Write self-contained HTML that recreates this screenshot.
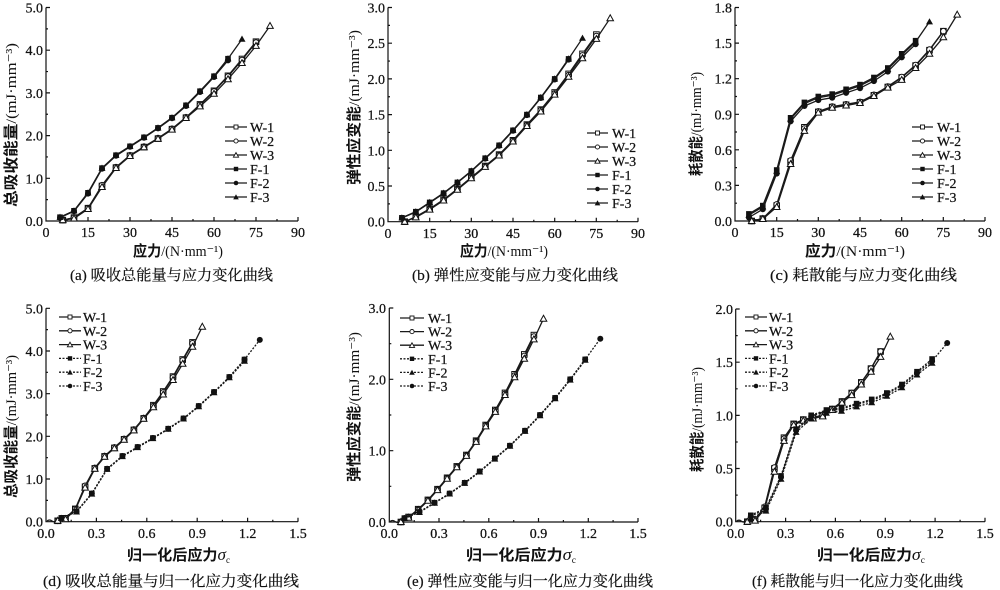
<!DOCTYPE html>
<html><head><meta charset="utf-8"><style>
html,body{margin:0;padding:0;background:#fff}
svg{display:block}
.tk{font-family:"Liberation Serif","Noto Serif CJK SC",serif;font-size:14px;fill:#111;stroke:#111;stroke-width:0.25}
.lg{font-family:"Liberation Serif",serif;font-size:14px;fill:#111;stroke:#111;stroke-width:0.25}
.cap{font-family:"Liberation Serif","Noto Serif CJK SC",serif;font-size:15px;fill:#111;stroke:#111;stroke-width:0.2}
.ttl{font-family:"Liberation Serif","Noto Sans CJK SC",sans-serif;font-size:15px;fill:#111}
.cj{font-family:"Noto Sans CJK SC",sans-serif;font-weight:bold}
.ln{fill:none;stroke:#1a1a1a;stroke-width:1.3}
.dt{fill:none;stroke:#1a1a1a;stroke-width:1.3;stroke-dasharray:2,1.5}
.ax{fill:none;stroke:#111;stroke-width:1.2}
</style></head><body>
<svg width="1000" height="590" viewBox="0 0 1000 590" xmlns="http://www.w3.org/2000/svg">
<defs>
<marker id="sqO" markerWidth="10" markerHeight="10" refX="5" refY="5" markerUnits="userSpaceOnUse" overflow="visible"><rect x="2.2" y="2.2" width="5.6" height="5.6" fill="#fff" stroke="#111" stroke-width="1"/></marker>
<marker id="ciO" markerWidth="10" markerHeight="10" refX="5" refY="5" markerUnits="userSpaceOnUse" overflow="visible"><circle cx="5" cy="5" r="2.8" fill="#fff" stroke="#111" stroke-width="1"/></marker>
<marker id="trO" markerWidth="10" markerHeight="10" refX="5" refY="5" markerUnits="userSpaceOnUse" overflow="visible"><path d="M5,1.6 L8.3,7.5 L1.7,7.5Z" fill="#fff" stroke="#111" stroke-width="1"/></marker>
<marker id="sqF" markerWidth="10" markerHeight="10" refX="5" refY="5" markerUnits="userSpaceOnUse" overflow="visible"><rect x="2.2" y="2.2" width="5.6" height="5.6" fill="#111"/></marker>
<marker id="ciF" markerWidth="10" markerHeight="10" refX="5" refY="5" markerUnits="userSpaceOnUse" overflow="visible"><circle cx="5" cy="5" r="3" fill="#111"/></marker>
<marker id="trF" markerWidth="10" markerHeight="10" refX="5" refY="5" markerUnits="userSpaceOnUse" overflow="visible"><path d="M5,1.4 L8.5,7.6 L1.5,7.6Z" fill="#111"/></marker>
<marker id="lsqO" markerWidth="8" markerHeight="8" refX="4" refY="4" markerUnits="userSpaceOnUse" overflow="visible"><rect x="2" y="2" width="4" height="4" fill="#fff" stroke="#111" stroke-width="0.9"/></marker>
<marker id="lciO" markerWidth="8" markerHeight="8" refX="4" refY="4" markerUnits="userSpaceOnUse" overflow="visible"><circle cx="4" cy="4" r="2.1" fill="#fff" stroke="#111" stroke-width="0.9"/></marker>
<marker id="ltrO" markerWidth="8" markerHeight="8" refX="4" refY="4" markerUnits="userSpaceOnUse" overflow="visible"><path d="M4,1.6 L6.6,6.2 L1.4,6.2Z" fill="#fff" stroke="#111" stroke-width="0.9"/></marker>
<marker id="lsqF" markerWidth="8" markerHeight="8" refX="4" refY="4" markerUnits="userSpaceOnUse" overflow="visible"><rect x="1.8" y="1.8" width="4.4" height="4.4" fill="#111"/></marker>
<marker id="lciF" markerWidth="8" markerHeight="8" refX="4" refY="4" markerUnits="userSpaceOnUse" overflow="visible"><circle cx="4" cy="4" r="2.3" fill="#111"/></marker>
<marker id="ltrF" markerWidth="8" markerHeight="8" refX="4" refY="4" markerUnits="userSpaceOnUse" overflow="visible"><path d="M4,1.3 L6.8,6.4 L1.2,6.4Z" fill="#111"/></marker>
</defs>

<!-- ================= (a) ================= -->
<path class="ax" d="M46,7.5 V221 H298"/>
<path class="ax" d="M88,221v-4M130,221v-4M172,221v-4M214,221v-4M256,221v-4M298,221v-4M67,221v-2M109,221v-2M151,221v-2M193,221v-2M235,221v-2M277,221v-2M46,178.3h4M46,135.6h4M46,92.9h4M46,50.2h4M46,7.5h4M46,199.65h2M46,156.95h2M46,114.25h2M46,71.55h2M46,28.85h2"/>
<g class="tk" text-anchor="end">
<text x="43" y="226">0.0</text><text x="43" y="183.3">1.0</text><text x="43" y="140.6">2.0</text><text x="43" y="97.9">3.0</text><text x="43" y="55.2">4.0</text><text x="43" y="12.5">5.0</text>
</g>
<g class="tk" text-anchor="middle">
<text x="46" y="237">0</text><text x="88" y="237">15</text><text x="130" y="237">30</text><text x="172" y="237">45</text><text x="214" y="237">60</text><text x="256" y="237">75</text><text x="298" y="237">90</text>
</g>
<polyline class="ln" marker-start="url(#sqO)" marker-mid="url(#sqO)" marker-end="url(#sqO)" points="62.8,220.1 74,217.6 88,208.2 102,186.0 116,167.6 130,155.7 144,147.1 158,138.6 172,129.2 186,117.7 200,104.4 214,90.8 228,75.8 242,59.0 256,41.7"/>
<polyline class="ln" marker-start="url(#ciO)" marker-mid="url(#ciO)" marker-end="url(#ciO)" points="62.8,220.1 74,217.6 88,208.2 102,185.2 116,167.2 130,155.3 144,146.7 158,138.2 172,128.8 186,117.3 200,105.0 214,91.4 228,76.6 242,60.0 256,42.5"/>
<polyline class="ln" marker-start="url(#trO)" marker-mid="url(#trO)" marker-end="url(#trO)" points="62.8,220.1 74,218.5 88,209.0 102,187.0 116,168.0 130,156.0 144,147.3 158,138.8 172,129.6 186,118.0 200,106.4 214,93.8 228,79.2 242,63.0 256,45.9 270,25.9"/>
<polyline class="ln" marker-start="url(#sqF)" marker-mid="url(#sqF)" marker-end="url(#sqF)" points="60,217.2 74,210.8 88,192.8 102,168.1 116,155.2 130,146.3 144,137.3 158,127.9 172,117.7 186,105.3 200,91.2 214,76.2 228,58.7"/>
<polyline class="ln" marker-start="url(#ciF)" marker-mid="url(#ciF)" marker-end="url(#ciF)" points="60,217.6 74,211.2 88,193.6 102,168.8 116,155.8 130,146.8 144,137.8 158,128.4 172,118.3 186,106.0 200,92.0 214,77.0 228,60.4"/>
<polyline class="ln" marker-start="url(#trF)" marker-mid="url(#trF)" marker-end="url(#trF)" points="60,217.2 74,210.8 88,192.8 102,168.1 116,155.2 130,146.3 144,137.3 158,127.9 172,117.7 186,105.3 200,91.2 214,76.2 228,58.7 242,39.1"/>
<polyline class="ln" marker-mid="url(#lsqO)" points="225,127 236,127 247,127"/>
<polyline class="ln" marker-mid="url(#lciO)" points="225,141 236,141 247,141"/>
<polyline class="ln" marker-mid="url(#ltrO)" points="225,155 236,155 247,155"/>
<polyline class="ln" marker-mid="url(#lsqF)" points="225,169 236,169 247,169"/>
<polyline class="ln" marker-mid="url(#lciF)" points="225,183 236,183 247,183"/>
<polyline class="ln" marker-mid="url(#ltrF)" points="225,197 236,197 247,197"/>
<g class="lg"><text x="250" y="132">W-1</text><text x="250" y="146">W-2</text><text x="250" y="160">W-3</text><text x="250" y="174">F-1</text><text x="250" y="188">F-2</text><text x="250" y="202">F-3</text></g>
<text class="ttl" transform="translate(16,125) rotate(-90)" text-anchor="middle" textLength="164" lengthAdjust="spacingAndGlyphs"><tspan class="cj">总吸收能量</tspan>/(mJ·mm⁻³)</text>
<text class="ttl" x="178" y="256" text-anchor="middle" textLength="90" lengthAdjust="spacingAndGlyphs"><tspan class="cj">应力</tspan>/(N·mm⁻¹)</text>
<text class="cap" x="171.5" y="280" text-anchor="middle" textLength="203" lengthAdjust="spacingAndGlyphs">(a) 吸收总能量与应力变化曲线</text>

<!-- ================= (b) ================= -->
<path class="ax" d="M388,7.5 V221.7 H638"/>
<path class="ax" d="M429.7,221.7v-4M471.3,221.7v-4M513,221.7v-4M554.7,221.7v-4M596.3,221.7v-4M638,221.7v-4M408.8,221.7v-2M450.5,221.7v-2M492.2,221.7v-2M533.8,221.7v-2M575.5,221.7v-2M617.2,221.7v-2M388,186h4M388,150.3h4M388,114.6h4M388,78.9h4M388,43.2h4M388,7.5h4M388,203.85h2M388,168.15h2M388,132.45h2M388,96.75h2M388,61.05h2M388,25.35h2"/>
<g class="tk" text-anchor="end">
<text x="385" y="226.7">0.0</text><text x="385" y="191">0.5</text><text x="385" y="155.3">1.0</text><text x="385" y="119.6">1.5</text><text x="385" y="83.9">2.0</text><text x="385" y="48.2">2.5</text><text x="385" y="12.5">3.0</text>
</g>
<g class="tk" text-anchor="middle">
<text x="388" y="238">0</text><text x="429.7" y="238">15</text><text x="471.3" y="238">30</text><text x="513" y="238">45</text><text x="554.7" y="238">60</text><text x="596.3" y="238">75</text><text x="638" y="238">90</text>
</g>
<polyline class="ln" marker-start="url(#sqO)" marker-mid="url(#sqO)" marker-end="url(#sqO)" points="404.7,221.7 415.8,216.7 429.7,208.8 443.6,199.6 457.4,188.9 471.3,177.4 485.2,166.0 499.1,154.6 513.0,140.3 526.9,124.6 540.8,109.6 554.7,92.5 568.6,73.9 582.5,53.9 596.4,34.6"/>
<polyline class="ln" marker-start="url(#ciO)" marker-mid="url(#ciO)" marker-end="url(#ciO)" points="404.7,221.7 415.8,217.0 429.7,209.2 443.6,200.0 457.4,189.3 471.3,177.8 485.2,166.4 499.1,155.0 513.0,140.8 526.9,125.2 540.8,110.3 554.7,93.5 568.6,75.2 582.5,55.4 596.4,36.0"/>
<polyline class="ln" marker-start="url(#trO)" marker-mid="url(#trO)" marker-end="url(#trO)" points="404.7,221.7 415.8,217.4 429.7,209.6 443.6,200.5 457.4,189.8 471.3,178.3 485.2,166.9 499.1,155.5 513.0,141.5 526.9,126.0 540.8,111.5 554.7,94.6 568.6,76.8 582.5,58.2 596.4,38.9 610.2,18.2"/>
<polyline class="ln" marker-start="url(#sqF)" marker-mid="url(#sqF)" marker-end="url(#sqF)" points="401.9,217.8 415.8,211.7 429.7,202.4 443.6,193.1 457.4,182.4 471.3,171.0 485.2,158.2 499.1,145.3 513.0,130.3 526.9,114.6 540.8,97.5 554.7,78.9 568.6,58.9"/>
<polyline class="ln" marker-start="url(#ciF)" marker-mid="url(#ciF)" marker-end="url(#ciF)" points="401.9,218.0 415.8,212.0 429.7,202.8 443.6,193.5 457.4,182.8 471.3,171.4 485.2,158.6 499.1,145.8 513.0,130.8 526.9,115.1 540.8,98.0 554.7,79.5 568.6,59.6"/>
<polyline class="ln" marker-start="url(#trF)" marker-mid="url(#trF)" marker-end="url(#trF)" points="401.9,217.8 415.8,211.7 429.7,202.4 443.6,193.1 457.4,182.4 471.3,171.0 485.2,158.2 499.1,145.3 513.0,130.3 526.9,114.6 540.8,97.5 554.7,78.9 568.6,58.9 582.5,38.2"/>
<polyline class="ln" marker-mid="url(#lsqO)" points="587,133 597.5,133 608,133"/>
<polyline class="ln" marker-mid="url(#lciO)" points="587,147 597.5,147 608,147"/>
<polyline class="ln" marker-mid="url(#ltrO)" points="587,161 597.5,161 608,161"/>
<polyline class="ln" marker-mid="url(#lsqF)" points="587,175 597.5,175 608,175"/>
<polyline class="ln" marker-mid="url(#lciF)" points="587,189 597.5,189 608,189"/>
<polyline class="ln" marker-mid="url(#ltrF)" points="587,203 597.5,203 608,203"/>
<g class="lg"><text x="612" y="138">W-1</text><text x="612" y="152">W-2</text><text x="612" y="166">W-3</text><text x="612" y="180">F-1</text><text x="612" y="194">F-2</text><text x="612" y="208">F-3</text></g>
<text class="ttl" transform="translate(359,107.5) rotate(-90)" text-anchor="middle" textLength="155" lengthAdjust="spacingAndGlyphs"><tspan class="cj">弹性应变能</tspan>/(mJ·mm⁻³)</text>
<text class="ttl" x="504" y="256" text-anchor="middle" textLength="88" lengthAdjust="spacingAndGlyphs"><tspan class="cj">应力</tspan>/(N·mm⁻¹)</text>
<text class="cap" x="515" y="280" text-anchor="middle" textLength="206" lengthAdjust="spacingAndGlyphs">(b) 弹性应变能与应力变化曲线</text>

<!-- ================= (c) ================= -->
<path class="ax" d="M735,7.5 V221 H985"/>
<path class="ax" d="M776.7,221v-4M818.3,221v-4M860,221v-4M901.7,221v-4M943.3,221v-4M985,221v-4M755.8,221v-2M797.5,221v-2M839.2,221v-2M880.8,221v-2M922.5,221v-2M964.2,221v-2M735,185.4h4M735,149.8h4M735,114.3h4M735,78.7h4M735,43.1h4M735,7.5h4M735,203.2h2M735,167.6h2M735,132h2M735,96.5h2M735,60.9h2M735,25.3h2"/>
<g class="tk" text-anchor="end">
<text x="732" y="226">0.0</text><text x="732" y="190.4">0.3</text><text x="732" y="154.8">0.6</text><text x="732" y="119.3">0.9</text><text x="732" y="83.7">1.2</text><text x="732" y="48.1">1.5</text><text x="732" y="12.5">1.8</text>
</g>
<g class="tk" text-anchor="middle">
<text x="735" y="237">0</text><text x="776.7" y="237">15</text><text x="818.3" y="237">30</text><text x="860" y="237">45</text><text x="901.7" y="237">60</text><text x="943.3" y="237">75</text><text x="985" y="237">90</text>
</g>
<polyline class="ln" marker-start="url(#sqO)" marker-mid="url(#sqO)" marker-end="url(#sqO)" points="751.7,221 762.8,218.6 776.7,205.6 790.6,161.7 804.4,127.3 818.3,111.9 832.2,107.1 846.1,104.8 860.0,102.4 873.9,95.3 887.8,87.0 901.7,77.5 915.6,65.6 929.5,50.2 943.4,31.2"/>
<polyline class="ln" marker-start="url(#ciO)" marker-mid="url(#ciO)" marker-end="url(#ciO)" points="751.7,221 762.8,218.6 776.7,204.4 790.6,160.5 804.4,128.5 818.3,111.4 832.2,106.6 846.1,104.3 860.0,101.9 873.9,94.8 887.8,86.5 901.7,77.0 915.6,65.0 929.5,49.6 943.4,31.2"/>
<polyline class="ln" marker-start="url(#trO)" marker-mid="url(#trO)" marker-end="url(#trO)" points="751.7,221 762.8,219.0 776.7,207.0 790.6,164.0 804.4,130.9 818.3,112.6 832.2,107.8 846.1,105.5 860.0,103.0 873.9,96.0 887.8,87.6 901.7,79.9 915.6,68.0 929.5,53.8 943.4,37.2 957.2,14.6"/>
<polyline class="ln" marker-start="url(#sqF)" marker-mid="url(#sqF)" marker-end="url(#sqF)" points="748.9,213.9 762.8,205.6 776.7,170.0 790.6,117.8 804.4,102.4 818.3,96.5 832.2,94.1 846.1,89.3 860.0,84.6 873.9,77.5 887.8,68.0 901.7,53.8 915.6,40.7"/>
<polyline class="ln" marker-start="url(#ciF)" marker-mid="url(#ciF)" marker-end="url(#ciF)" points="748.9,217.5 762.8,209.2 776.7,173.6 790.6,121.4 804.4,106.0 818.3,100.1 832.2,97.7 846.1,92.9 860.0,88.2 873.9,81.1 887.8,71.6 901.7,57.4 915.6,44.3"/>
<polyline class="ln" marker-start="url(#trF)" marker-mid="url(#trF)" marker-end="url(#trF)" points="748.9,215.1 762.8,206.8 776.7,171.2 790.6,119.0 804.4,103.6 818.3,97.7 832.2,95.3 846.1,90.5 860.0,85.8 873.9,78.7 887.8,69.2 901.7,55.0 915.6,41.9 929.5,21.8"/>
<polyline class="ln" marker-mid="url(#lsqO)" points="912,127 922.5,127 933,127"/>
<polyline class="ln" marker-mid="url(#lciO)" points="912,141 922.5,141 933,141"/>
<polyline class="ln" marker-mid="url(#ltrO)" points="912,155 922.5,155 933,155"/>
<polyline class="ln" marker-mid="url(#lsqF)" points="912,169 922.5,169 933,169"/>
<polyline class="ln" marker-mid="url(#lciF)" points="912,183 922.5,183 933,183"/>
<polyline class="ln" marker-mid="url(#ltrF)" points="912,197 922.5,197 933,197"/>
<g class="lg"><text x="937" y="132">W-1</text><text x="937" y="146">W-2</text><text x="937" y="160">W-3</text><text x="937" y="174">F-1</text><text x="937" y="188">F-2</text><text x="937" y="202">F-3</text></g>
<text class="ttl" transform="translate(701,124) rotate(-90)" text-anchor="middle" textLength="104" lengthAdjust="spacingAndGlyphs"><tspan class="cj">耗散能</tspan>/(mJ·mm⁻³)</text>
<text class="ttl" x="855" y="256" text-anchor="middle" textLength="100" lengthAdjust="spacingAndGlyphs"><tspan class="cj">应力</tspan>/(N·mm⁻¹)</text>
<text class="cap" x="863.5" y="280" text-anchor="middle" textLength="187" lengthAdjust="spacingAndGlyphs">(c) 耗散能与应力变化曲线</text>

<!-- ================= (d) ================= -->
<path class="ax" d="M46,308.3 V521.7 H298"/>
<path class="ax" d="M96.4,521.7v-4M146.8,521.7v-4M197.2,521.7v-4M247.6,521.7v-4M298,521.7v-4M71.2,521.7v-2M121.6,521.7v-2M172,521.7v-2M222.4,521.7v-2M272.8,521.7v-2M46,479h4M46,436.3h4M46,393.7h4M46,351h4M46,308.3h4M46,500.4h2M46,457.7h2M46,415h2M46,372.3h2M46,329.6h2"/>
<path class="ln" d="M47,521 q2.5,-2 5,0 t5,-0.5 t4,-1"/>
<g class="tk" text-anchor="end">
<text x="43" y="526.7">0.0</text><text x="43" y="484">1.0</text><text x="43" y="441.3">2.0</text><text x="43" y="398.7">3.0</text><text x="43" y="356">4.0</text><text x="43" y="313.3">5.0</text>
</g>
<g class="tk" text-anchor="middle">
<text x="46" y="538">0.0</text><text x="96.4" y="538">0.3</text><text x="146.8" y="538">0.6</text><text x="197.2" y="538">0.9</text><text x="247.6" y="538">1.2</text><text x="298" y="538">1.5</text>
</g>
<polyline class="ln" marker-start="url(#sqO)" marker-mid="url(#sqO)" marker-end="url(#sqO)" points="57.7,520.8 65.5,518.3 75.3,508.9 85.1,486.7 94.8,468.4 104.6,456.4 114.4,447.9 124.1,439.3 133.9,429.9 143.7,418.4 153.4,405.2 163.2,391.5 173.0,376.6 182.7,359.5 192.5,342.4"/>
<polyline class="ln" marker-start="url(#ciO)" marker-mid="url(#ciO)" marker-end="url(#ciO)" points="57.7,520.8 65.5,518.3 75.3,508.9 85.1,485.8 94.8,467.9 104.6,456.0 114.4,447.4 124.1,438.9 133.9,429.5 143.7,418.0 153.4,406.0 163.2,392.4 173.0,377.4 182.7,360.4 192.5,343.3"/>
<polyline class="ln" marker-start="url(#trO)" marker-mid="url(#trO)" marker-end="url(#trO)" points="57.7,520.8 65.5,519.1 75.3,509.8 85.1,487.6 94.8,468.8 104.6,456.8 114.4,448.3 124.1,439.8 133.9,430.4 143.7,418.8 153.4,407.3 163.2,394.5 173.0,380.0 182.7,363.8 192.5,346.7 202.3,326.7"/>
<polyline class="dt" marker-start="url(#sqF)" marker-mid="url(#sqF)" marker-end="url(#sqF)" points="61.3,517.9 76.5,511.5 91.8,493.5 107.1,468.8 122.4,456.0 137.6,447.0 152.9,438.0 168.2,428.7 183.5,418.4 198.7,406.0 214.0,392.0 229.3,377.0 244.5,359.5"/>
<polyline class="dt" marker-start="url(#trF)" marker-mid="url(#trF)" marker-end="url(#trF)" points="61.3,518.3 76.5,511.9 91.8,494.0 107.1,469.3 122.4,456.5 137.6,447.5 152.9,438.5 168.2,429.2 183.5,418.9 198.7,406.6 214.0,392.6 229.3,377.7 244.5,361.2"/>
<polyline class="dt" marker-start="url(#ciF)" marker-mid="url(#ciF)" marker-end="url(#ciF)" points="61.3,517.9 76.5,511.5 91.8,493.5 107.1,468.8 122.4,456.0 137.6,447.0 152.9,438.0 168.2,428.7 183.5,418.4 198.7,406.0 214.0,392.0 229.3,377.0 244.5,359.5 259.8,339.9"/>
<polyline class="ln" marker-mid="url(#lsqO)" points="59,317 70,317 81,317"/>
<polyline class="ln" marker-mid="url(#lciO)" points="59,330.8 70,330.8 81,330.8"/>
<polyline class="ln" marker-mid="url(#ltrO)" points="59,344.6 70,344.6 81,344.6"/>
<polyline class="dt" marker-mid="url(#lsqF)" points="59,358.4 70,358.4 81,358.4"/>
<polyline class="dt" marker-mid="url(#ltrF)" points="59,372.2 70,372.2 81,372.2"/>
<polyline class="dt" marker-mid="url(#lciF)" points="59,386 70,386 81,386"/>
<g class="lg"><text x="83" y="322">W-1</text><text x="83" y="335.8">W-2</text><text x="83" y="349.6">W-3</text><text x="83" y="363.4">F-1</text><text x="83" y="377.2">F-2</text><text x="83" y="391">F-3</text></g>
<text class="ttl" transform="translate(16,426.5) rotate(-90)" text-anchor="middle" textLength="143" lengthAdjust="spacingAndGlyphs"><tspan class="cj">总吸收能量</tspan>/(mJ·mm⁻³)</text>
<text class="ttl" x="178.5" y="560" text-anchor="middle" textLength="103" lengthAdjust="spacingAndGlyphs"><tspan class="cj">归一化后应力</tspan><tspan font-style="italic" font-family="Liberation Serif,serif" font-size="17">σ</tspan><tspan font-size="9" dy="3">c</tspan></text>
<text class="cap" x="171" y="586" text-anchor="middle" textLength="256" lengthAdjust="spacingAndGlyphs">(d) 吸收总能量与归一化应力变化曲线</text>

<!-- ================= (e) ================= -->
<path class="ax" d="M389.3,308 V522 H638"/>
<path class="ax" d="M439,522v-4M488.8,522v-4M538.5,522v-4M588.3,522v-4M638,522v-4M414.2,522v-2M463.9,522v-2M513.7,522v-2M563.4,522v-2M613.1,522v-2M389.3,450.7h4M389.3,379.3h4M389.3,308h4M389.3,486.3h2M389.3,415h2M389.3,343.7h2"/>
<path class="ln" d="M390,521.5 q2.5,-2 5,0 t5,-0.5 t4,-1"/>
<g class="tk" text-anchor="end">
<text x="386" y="527">0.0</text><text x="386" y="455.7">1.0</text><text x="386" y="384.3">2.0</text><text x="386" y="313">3.0</text>
</g>
<g class="tk" text-anchor="middle">
<text x="389.3" y="538">0.0</text><text x="439" y="538">0.3</text><text x="488.8" y="538">0.6</text><text x="538.5" y="538">0.9</text><text x="588.3" y="538">1.2</text><text x="638" y="538">1.5</text>
</g>
<polyline class="ln" marker-start="url(#sqO)" marker-mid="url(#sqO)" marker-end="url(#sqO)" points="400.9,522 408.6,517.0 418.2,509.2 427.9,499.9 437.5,489.2 447.1,477.8 456.8,466.4 466.4,455.0 476.1,440.7 485.7,425.0 495.3,410.0 505.0,392.9 514.6,374.3 524.3,354.4 533.9,335.1"/>
<polyline class="ln" marker-start="url(#ciO)" marker-mid="url(#ciO)" marker-end="url(#ciO)" points="400.9,522 408.6,517.3 418.2,509.6 427.9,500.3 437.5,489.6 447.1,478.2 456.8,466.8 466.4,455.4 476.1,441.2 485.7,425.6 495.3,410.7 505.0,393.9 514.6,375.6 524.3,355.9 533.9,336.5"/>
<polyline class="ln" marker-start="url(#trO)" marker-mid="url(#trO)" marker-end="url(#trO)" points="400.9,522 408.6,517.7 418.2,510.0 427.9,500.8 437.5,490.1 447.1,478.7 456.8,467.3 466.4,455.9 476.1,441.9 485.7,426.4 495.3,411.9 505.0,395.0 514.6,377.2 524.3,358.7 533.9,339.4 543.5,318.7"/>
<polyline class="dt" marker-start="url(#sqF)" marker-mid="url(#sqF)" marker-end="url(#sqF)" points="404.4,518.1 419.4,512.0 434.5,502.7 449.6,493.5 464.7,482.8 479.7,471.4 494.8,458.5 509.9,445.7 525.0,430.7 540.0,415.0 555.1,397.9 570.2,379.3 585.2,359.4"/>
<polyline class="dt" marker-start="url(#trF)" marker-mid="url(#trF)" marker-end="url(#trF)" points="404.4,518.4 419.4,512.4 434.5,503.1 449.6,493.9 464.7,483.3 479.7,471.9 494.8,459.0 509.9,446.2 525.0,431.3 540.0,415.6 555.1,398.6 570.2,380.0 585.2,360.2"/>
<polyline class="dt" marker-start="url(#ciF)" marker-mid="url(#ciF)" marker-end="url(#ciF)" points="404.4,518.1 419.4,512.0 434.5,502.7 449.6,493.5 464.7,482.8 479.7,471.4 494.8,458.5 509.9,445.7 525.0,430.7 540.0,415.0 555.1,397.9 570.2,379.3 585.2,359.4 600.3,338.7"/>
<polyline class="ln" marker-mid="url(#lsqO)" points="400,318 412,318 424,318"/>
<polyline class="ln" marker-mid="url(#lciO)" points="400,331.6 412,331.6 424,331.6"/>
<polyline class="ln" marker-mid="url(#ltrO)" points="400,345.2 412,345.2 424,345.2"/>
<polyline class="dt" marker-mid="url(#lsqF)" points="400,358.8 412,358.8 424,358.8"/>
<polyline class="dt" marker-mid="url(#ltrF)" points="400,372.4 412,372.4 424,372.4"/>
<polyline class="dt" marker-mid="url(#lciF)" points="400,386 412,386 424,386"/>
<g class="lg"><text x="428" y="323">W-1</text><text x="428" y="336.6">W-2</text><text x="428" y="350.2">W-3</text><text x="428" y="363.8">F-1</text><text x="428" y="377.4">F-2</text><text x="428" y="391">F-3</text></g>
<text class="ttl" transform="translate(359,407) rotate(-90)" text-anchor="middle" textLength="150" lengthAdjust="spacingAndGlyphs"><tspan class="cj">弹性应变能</tspan>/(mJ·mm⁻³)</text>
<text class="ttl" x="521" y="560" text-anchor="middle" textLength="110" lengthAdjust="spacingAndGlyphs"><tspan class="cj">归一化后应力</tspan><tspan font-style="italic" font-family="Liberation Serif,serif" font-size="17">σ</tspan><tspan font-size="9" dy="3">c</tspan></text>
<text class="cap" x="530" y="586" text-anchor="middle" textLength="246" lengthAdjust="spacingAndGlyphs">(e) 弹性应变能与归一化应力变化曲线</text>

<!-- ================= (f) ================= -->
<path class="ax" d="M735.7,309 V521.7 H985"/>
<path class="ax" d="M785.6,521.7v-4M835.4,521.7v-4M885.3,521.7v-4M935.1,521.7v-4M985,521.7v-4M760.6,521.7v-2M810.5,521.7v-2M860.4,521.7v-2M910.2,521.7v-2M960.1,521.7v-2M735.7,468.5h4M735.7,415.4h4M735.7,362.2h4M735.7,309h4M735.7,495.1h2M735.7,442h2M735.7,388.8h2M735.7,335.6h2"/>
<path class="ln" d="M736.5,521.2 q2.5,-2 5,0 t5,-0.5 t4,-1"/>
<g class="tk" text-anchor="end">
<text x="733" y="526.7">0.0</text><text x="733" y="473.5">0.5</text><text x="733" y="420.4">1.0</text><text x="733" y="367.2">1.5</text><text x="733" y="314">2.0</text>
</g>
<g class="tk" text-anchor="middle">
<text x="735.7" y="538">0.0</text><text x="785.6" y="538">0.3</text><text x="835.4" y="538">0.6</text><text x="885.3" y="538">0.9</text><text x="935.1" y="538">1.2</text><text x="985" y="538">1.5</text>
</g>
<polyline class="ln" marker-start="url(#sqO)" marker-mid="url(#sqO)" marker-end="url(#sqO)" points="747.3,521.7 755.0,519.6 764.7,507.9 774.4,468.5 784.0,437.7 793.7,423.9 803.3,419.6 813.0,417.5 822.7,415.4 832.3,409.0 842.0,401.5 851.7,393.0 861.3,382.4 871.0,368.6 880.6,351.5"/>
<polyline class="ln" marker-start="url(#ciO)" marker-mid="url(#ciO)" marker-end="url(#ciO)" points="747.3,521.7 755.0,519.6 764.7,506.8 774.4,467.5 784.0,438.7 793.7,423.9 803.3,419.6 813.0,417.5 822.7,415.4 832.3,409.0 842.0,401.5 851.7,393.0 861.3,382.4 871.0,368.6 880.6,351.5"/>
<polyline class="ln" marker-start="url(#trO)" marker-mid="url(#trO)" marker-end="url(#trO)" points="747.3,521.7 755.0,520.6 764.7,508.9 774.4,471.7 784.0,440.9 793.7,424.9 803.3,420.7 813.0,418.5 822.7,416.4 832.3,410.0 842.0,402.6 851.7,395.1 861.3,384.5 871.0,371.7 880.6,356.9 890.3,336.6"/>
<polyline class="dt" marker-start="url(#sqF)" marker-mid="url(#sqF)" marker-end="url(#sqF)" points="750.8,515.3 765.9,507.8 781.0,475.9 796.1,429.1 811.2,415.3 826.4,410.0 841.5,407.9 856.6,403.6 871.7,399.4 886.8,393.0 901.9,384.5 917.0,371.7 932.1,359.0"/>
<polyline class="dt" marker-start="url(#trF)" marker-mid="url(#trF)" marker-end="url(#trF)" points="750.8,518.5 765.9,511.0 781.0,479.1 796.1,432.3 811.2,418.5 826.4,413.2 841.5,411.1 856.6,406.8 871.7,402.6 886.8,396.2 901.9,387.7 917.0,374.9 932.1,363.2"/>
<polyline class="dt" marker-start="url(#ciF)" marker-mid="url(#ciF)" marker-end="url(#ciF)" points="750.8,516.4 765.9,508.9 781.0,477.0 796.1,430.2 811.2,416.4 826.4,411.1 841.5,409.0 856.6,404.7 871.7,400.5 886.8,394.1 901.9,385.6 917.0,372.8 932.1,361.1 947.2,343.0"/>
<polyline class="ln" marker-mid="url(#lsqO)" points="745,317 756,317 767,317"/>
<polyline class="ln" marker-mid="url(#lciO)" points="745,330.8 756,330.8 767,330.8"/>
<polyline class="ln" marker-mid="url(#ltrO)" points="745,344.6 756,344.6 767,344.6"/>
<polyline class="dt" marker-mid="url(#lsqF)" points="745,358.4 756,358.4 767,358.4"/>
<polyline class="dt" marker-mid="url(#ltrF)" points="745,372.2 756,372.2 767,372.2"/>
<polyline class="dt" marker-mid="url(#lciF)" points="745,386 756,386 767,386"/>
<g class="lg"><text x="769" y="322">W-1</text><text x="769" y="335.8">W-2</text><text x="769" y="349.6">W-3</text><text x="769" y="363.4">F-1</text><text x="769" y="377.2">F-2</text><text x="769" y="391">F-3</text></g>
<text class="ttl" transform="translate(702,419.5) rotate(-90)" text-anchor="middle" textLength="105" lengthAdjust="spacingAndGlyphs"><tspan class="cj">耗散能</tspan>/(mJ·mm⁻³)</text>
<text class="ttl" x="871" y="560" text-anchor="middle" textLength="108" lengthAdjust="spacingAndGlyphs"><tspan class="cj">归一化后应力</tspan><tspan font-style="italic" font-family="Liberation Serif,serif" font-size="17">σ</tspan><tspan font-size="9" dy="3">c</tspan></text>
<text class="cap" x="857.5" y="586" text-anchor="middle" textLength="211" lengthAdjust="spacingAndGlyphs">(f) 耗散能与归一化应力变化曲线</text>
</svg>
</body></html>
